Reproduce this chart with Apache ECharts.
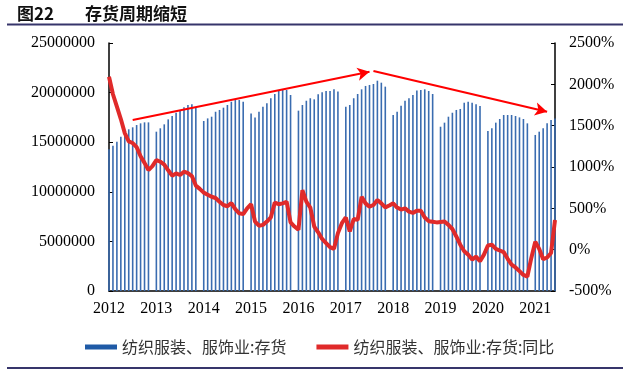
<!DOCTYPE html>
<html>
<head>
<meta charset="utf-8">
<script src="https://cdn.jsdelivr.net/npm/echarts@6/dist/echarts.min.js"></script>
<style>
  html, body { margin: 0; padding: 0; background: #fff; }
  #chart { width: 640px; height: 371px; }
</style>
</head>
<body>
<div id="chart"></div>
<script>
// ---- Data ----
const years = [2012, 2013, 2014, 2015, 2016, 2017, 2018, 2019, 2020, 2021];
const firstMonth = '2012-02';
const lastMonth = '2021-07';

// Inventory (Feb..Dec each year; January not reported)
const inv2012 = [14300000, 14650000, 15050000, 15550000, 15950000, 16300000, 16500000, 16730000, 16900000, 17000000, 17000000];
const inv2013 = [16060000, 16400000, 16800000, 17300000, 17640000, 17970000, 18250000, 18520000, 18750000, 18820000, 18480000];
const inv2014 = [17140000, 17400000, 17570000, 18070000, 18250000, 18480000, 18750000, 19080000, 19250000, 19250000, 19080000];
const inv2015 = [17900000, 17500000, 18070000, 18580000, 18920000, 19430000, 19860000, 20160000, 20260000, 20260000, 19760000];
const inv2016 = [18180000, 18750000, 19180000, 19430000, 19320000, 19830000, 20030000, 20160000, 20160000, 20330000, 20100000];
const inv2017 = [18580000, 18750000, 19430000, 19860000, 20330000, 20670000, 20770000, 20870000, 21200000, 21000000, 20600000];
const inv2018 = [17740000, 18070000, 18680000, 19180000, 19430000, 19760000, 20200000, 20260000, 20330000, 20160000, 19860000];
const inv2019 = [16560000, 16970000, 17570000, 17970000, 18250000, 18350000, 18980000, 19080000, 18980000, 18820000, 18650000];
const inv2020 = [16130000, 16400000, 16970000, 17340000, 17740000, 17740000, 17740000, 17640000, 17500000, 17340000, 16900000];
const inv2021 = [15730000, 16060000, 16400000, 16900000, 17240000, 17400000];

// Inventory YoY (%), monthly Feb 2012 .. Jul 2021
const inventoryYoY = [
  2092, 1880, 1730, 1580, 1410, 1310, 1290, 1240, 1130, 1050, 964,
  1010, 1085, 1064, 1030, 960, 895, 923, 903, 943, 925, 890, 775,
  735, 690, 665, 640, 625, 580, 540, 525, 565, 490, 440, 430,
  500, 550, 340, 290, 300, 340, 390, 570, 550, 560, 580, 330,
  280, 240, 720, 580, 510, 280, 210, 130, 80, 30, 10, 200,
  320, 390, 220, 370, 360, 640, 560, 520, 540, 600, 560, 512,
  535, 560, 510, 485, 500, 460, 445, 470, 470, 390, 345, 338,
  330, 335, 340, 300, 250, 160, 60, -20, -60, -120, -84, -140,
  -60, 50, 60, 10, -10, -30, -110, -180, -215, -260, -306, -325,
  -100, 97, 10, -116, -95, -40, 359
];

// Trend arrows (annotation, in data coordinates)
const arrowUp = [['2012-08', 17240000], ['2017-08', 22100000]];
const arrowDown = [['2017-09', 22180000], ['2021-05', 18070000]];

const leftTicks = [0, 5000000, 10000000, 15000000, 20000000, 25000000];
const rightTicks = [-500, 0, 500, 1000, 1500, 2000, 2500];

const title1 = '图22';
const title2 = '存货周期缩短';
const nameInv = '纺织服装、服饰业:存货';
const nameYoY = '纺织服装、服饰业:存货:同比';

// ---- Build categories & bar data ----
const categories = [];
const yearly = { 2012: inv2012, 2013: inv2013, 2014: inv2014, 2015: inv2015, 2016: inv2016,
                 2017: inv2017, 2018: inv2018, 2019: inv2019, 2020: inv2020, 2021: inv2021 };
const inventory = [];
let started = false;
for (const y of years) {
  for (let m = 1; m <= 12; m++) {
    const key = y + '-' + String(m).padStart(2, '0');
    if (key === firstMonth) started = true;
    if (!started) continue;
    categories.push(key);
    inventory.push(m === 1 ? null : (yearly[y][m - 2] !== undefined ? yearly[y][m - 2] : null));
    if (key === lastMonth) break;
  }
}

const serif = 'Liberation Serif';
const cjk = 'Noto Sans CJK SC';

const chart = echarts.init(document.getElementById('chart'), null, { renderer: 'canvas' });
chart.setOption({
  animation: false,
  backgroundColor: '#fff',
  grid: { left: 109, right: 85, top: 43, bottom: 80, containLabel: false },
  graphic: [
    { type: 'text', left: 17, top: 5, style: { text: title1, font: 'bold 17px "Noto Sans CJK SC"', fill: '#111' } },
    { type: 'text', left: 85, top: 5, style: { text: title2, font: 'bold 17px "Noto Sans CJK SC"', fill: '#111' } },
    { type: 'line', shape: { x1: 7, y1: 24.5, x2: 623, y2: 24.5 }, style: { stroke: '#36356b', lineWidth: 2 } },
    { type: 'line', shape: { x1: 7, y1: 368, x2: 623, y2: 368 }, style: { stroke: '#36356b', lineWidth: 2 } }
  ],
  legend: {
    left: 80, top: 334,
    itemWidth: 32, itemHeight: 5, itemGap: 30,
    textStyle: { fontFamily: cjk, fontSize: 16, color: '#333' },
    data: [
      { name: nameInv, icon: 'rect', itemStyle: { color: '#1f5aa6' } },
      { name: nameYoY, icon: 'rect', itemStyle: { color: '#e02a2a' } }
    ]
  },
  xAxis: {
    type: 'category',
    data: categories,
    boundaryGap: false,
    axisLine: { show: true, lineStyle: { color: '#000', width: 1.5 } },
    axisTick: { show: false },
    splitLine: { show: false },
    axisLabel: {
      interval: (i) => i % 12 === 0,
      formatter: (v) => v.slice(0, 4),
      fontFamily: serif, fontSize: 16, color: '#000', margin: 10
    }
  },
  yAxis: [
    {
      type: 'value', min: leftTicks[0], max: leftTicks[leftTicks.length - 1], interval: 5000000,
      axisLine: { show: true, lineStyle: { color: '#000', width: 1.5 } },
      axisTick: { show: true, inside: true, length: 4, lineStyle: { color: '#000' } },
      splitLine: { show: false },
      axisLabel: { fontFamily: serif, fontSize: 16, color: '#000', margin: 14, formatter: (v) => String(v) }
    },
    {
      type: 'value', min: rightTicks[0], max: rightTicks[rightTicks.length - 1], interval: 500,
      position: 'right',
      axisLine: { show: true, lineStyle: { color: '#000', width: 1.5 } },
      axisTick: { show: true, inside: true, length: 4, lineStyle: { color: '#000' } },
      splitLine: { show: false },
      axisLabel: { fontFamily: serif, fontSize: 16, color: '#000', margin: 14, formatter: (v) => String(v) + '%' }
    }
  ],
  series: [
    {
      name: nameInv, type: 'bar', data: inventory, yAxisIndex: 0,
      barWidth: 1.6,
      itemStyle: { color: '#3a6cb0' },
      z: 2,
      markLine: {
        silent: true,
        symbol: ['none', 'arrow'],
        symbolSize: [10, 12],
        label: { show: false },
        lineStyle: { color: '#ff0000', width: 2, type: 'solid' },
        data: [
          [{ coord: arrowUp[0] }, { coord: arrowUp[1] }],
          [{ coord: arrowDown[0] }, { coord: arrowDown[1] }]
        ]
      }
    },
    {
      name: nameYoY, type: 'line', data: inventoryYoY, yAxisIndex: 1,
      showSymbol: false, symbol: 'none',
      lineStyle: { color: '#e02a2a', width: 4 },
      itemStyle: { color: '#e02a2a' },
      z: 3
    }
  ]
});
</script>
</body>
</html>
